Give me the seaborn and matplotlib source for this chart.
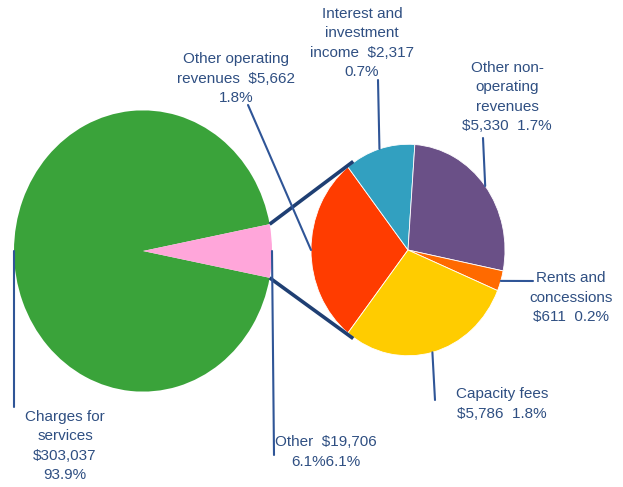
import matplotlib
matplotlib.use("Agg")
import matplotlib.pyplot as plt
import seaborn as sns
import numpy as np

# ---------------- data ----------------
main_names = ["Charges for services", "Other"]
main_values = [303037, 19706]
main_pcts = ["93.9%", "6.1%"]

sub_names = ["Other operating revenues", "Interest and investment income",
             "Other non-operating revenues", "Rents and concessions", "Capacity fees"]
sub_values = [5662, 2317, 5330, 611, 5786]
sub_pcts = ["1.8%", "0.7%", "1.7%", "0.2%", "1.8%"]

main_label_texts = [
    "Charges for\nservices\n$303,037\n93.9%",
    "Other  $19,706\n6.1%6.1%",
]
sub_label_texts = [
    "Other operating\nrevenues  $5,662\n1.8%",
    "Interest and\ninvestment\nincome  $2,317\n0.7%",
    "Other non-\noperating\nrevenues\n$5,330  1.7%",
    "Rents and\nconcessions\n$611  0.2%",
    "Capacity fees\n$5,786  1.8%",
]

main_colors = ["#3AA33A", "#FFA6DA"]
sub_colors = ["#FF3C00", "#32A0C0", "#6A5087", "#FF6A00", "#FFCC00"]

# ---------------- style ----------------
sns.set_theme(style="white")
plt.rcParams["font.family"] = ["Liberation Sans", "DejaVu Sans"]
TEXT_COLOR = "#2F4F82"
LEADER_COLOR = "#2F5597"
CONNECT_COLOR = "#1F3F73"

W, H = 623, 487
SY = 1.09  # vertical stretch of the pies

fig = plt.figure(figsize=(W / 100, H / 100), dpi=100)
ax = fig.add_axes([0, 0, 1, 1])


def P(px, py):
    return (px, (H - py) / SY)


main_center = P(143, 251)
main_r = 129
sub_center = P(408, 250)
sub_r = 97

main_start = 180.0 * main_values[1] / sum(main_values)
main_wedges, _ = ax.pie(main_values, colors=main_colors, center=main_center,
                        radius=main_r, startangle=main_start,
                        wedgeprops=dict(linewidth=0))
sub_start = 180.0 + 180.0 * sub_values[0] / sum(sub_values)
sub_wedges, _ = ax.pie(sub_values, colors=sub_colors, center=sub_center,
                       radius=sub_r, startangle=sub_start, counterclock=False,
                       wedgeprops=dict(linewidth=0.6, edgecolor="white"))

ax.set_xlim(0, W)
ax.set_ylim(0, H / SY)
ax.set_aspect("auto")
ax.axis("off")


def edge_point(center, r, ang):
    a = np.deg2rad(ang)
    return (center[0] + r * np.cos(a), center[1] + r * np.sin(a))


def mid_point(w, center, r):
    return edge_point(center, r, (w.theta1 + w.theta2) / 2.0)


# connectors between the pies
ow = main_wedges[1]
p_top = edge_point(main_center, main_r, ow.theta2)
p_bot = edge_point(main_center, main_r, ow.theta1)
q_top = edge_point(sub_center, sub_r * 1.01, 124)
q_bot = edge_point(sub_center, sub_r * 1.01, 236)
for a, b in [(p_top, q_top), (p_bot, q_bot)]:
    ax.plot([a[0], b[0]], [a[1], b[1]], color=CONNECT_COLOR, lw=2.6,
            solid_capstyle="butt", zorder=1)

# leaders and labels
main_label_pos = [P(65, 446), P(326, 452)]
main_leader_end = [P(14, 407), P(274, 455)]
sub_label_pos = [P(236, 79), P(362, 43), P(507, 97), P(571, 298), P(502, 404)]
sub_leader_end = [P(248, 105), P(378, 80), P(483, 138), P(533, 281), P(435, 400)]

for w, txt, pos, end in zip(main_wedges, main_label_texts, main_label_pos, main_leader_end):
    s = mid_point(w, main_center, main_r)
    ax.plot([s[0], end[0]], [s[1], end[1]], color=LEADER_COLOR, lw=1.5, zorder=3)
    ax.text(pos[0], pos[1], txt, ha="center", va="center", multialignment="center",
            fontsize=11, color=TEXT_COLOR, linespacing=1.5)

for w, txt, pos, end in zip(sub_wedges, sub_label_texts, sub_label_pos, sub_leader_end):
    s = mid_point(w, sub_center, sub_r)
    ax.plot([s[0], end[0]], [s[1], end[1]], color=LEADER_COLOR, lw=1.5, zorder=3)
    ax.text(pos[0], pos[1], txt, ha="center", va="center", multialignment="center",
            fontsize=11, color=TEXT_COLOR, linespacing=1.5)

fig.savefig("out.png", dpi=100)
